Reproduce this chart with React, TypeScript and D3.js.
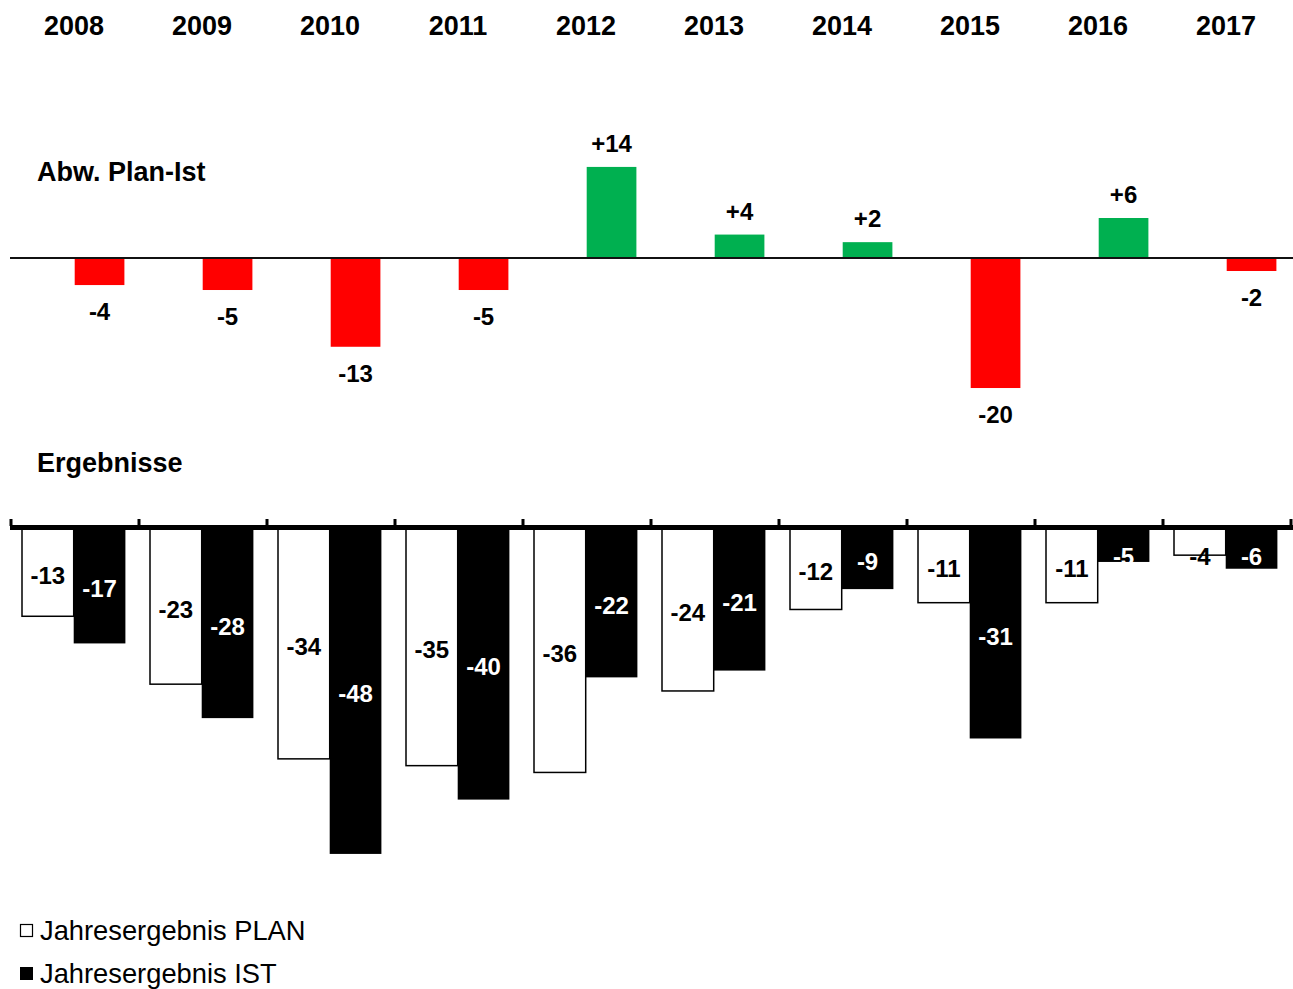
import React from "react";
import * as d3 from "d3";

const years = ["2008", "2009", "2010", "2011", "2012", "2013", "2014", "2015", "2016", "2017"];
const deviation = [-4.1, -4.85, -13.45, -4.85, 13.8, 3.55, 2.4, -19.7, 6.06, -1.97];
const planValues = [-13, -23, -34, -35, -36, -24, -12, -11, -11, -4];
const istValues = [-17, -28, -48, -40, -22, -21, -9, -31, -5, -6];
const legendLabels = ["Jahresergebnis PLAN", "Jahresergebnis IST"];
const sectionTitles = ["Abw. Plan-Ist", "Ergebnisse"];

const W = 1293;
const H = 989;
const FONT = "'Liberation Sans', Arial, Helvetica, sans-serif";

const fmtDev = (v: number) => {
  const r = Math.round(v);
  return (r > 0 ? "+" : r < 0 ? "-" : "") + Math.abs(r);
};
const fmtRes = (v: number) => {
  const r = Math.round(v);
  return (r < 0 ? "-" : "") + Math.abs(r);
};

export default function App() {
  const x = d3.scaleBand<string>().domain(years).range([11, 1291]).paddingInner(0).paddingOuter(0);
  const bw = x.bandwidth();
  const barOff = 11;
  const barW = 51.7;

  const yTop = d3.scaleLinear().domain([20, -20]).range([258 - 20 * 6.6, 258 + 20 * 6.6]);
  const yBot = d3.scaleLinear().domain([0, -50]).range([528, 528 + 50 * 6.79]);

  const ticks = d3.range(years.length + 1).map((i) => 11 + i * bw);

  return (
    <svg
      width={W}
      height={H}
      style={{ position: "absolute", left: 0, top: 0, display: "block", background: "#fff" }}
      fontFamily={FONT}
    >
      {/* year labels */}
      {years.map((yr) => (
        <text
          key={"y" + yr}
          x={(x(yr) as number) + bw / 2 - 1}
          y={35}
          textAnchor="middle"
          fontSize={27}
          fontWeight="bold"
          fill="#000"
        >
          {yr}
        </text>
      ))}

      {/* section titles */}
      <text x={37} y={181} fontSize={27} fontWeight="bold" fill="#000">
        {sectionTitles[0]}
      </text>
      <text x={37} y={472} fontSize={27} fontWeight="bold" fill="#000">
        {sectionTitles[1]}
      </text>

      {/* deviation bars */}
      {deviation.map((v, i) => {
        const x0 = (x(years[i]) as number) + barOff + barW + 1;
        const w = barW - 2;
        const y0 = yTop(Math.max(v, 0));
        const y1 = yTop(Math.min(v, 0));
        const pos = v > 0;
        return (
          <g key={"d" + i}>
            <rect x={x0} y={y0} width={w} height={y1 - y0} fill={pos ? "#00B050" : "#FF0000"} />
            <text
              x={x0 + w / 2}
              y={pos ? y0 - 15 : y1 + 35}
              textAnchor="middle"
              fontSize={24}
              fontWeight="bold"
              fill="#000"
            >
              {fmtDev(v)}
            </text>
          </g>
        );
      })}
      <line x1={10} x2={1293} y1={yTop(0)} y2={yTop(0)} stroke="#111" strokeWidth={2} />

      {/* result bars */}
      {years.map((yr, i) => {
        const bx = x(yr) as number;
        const px = bx + barOff;
        const ix = px + barW;
        const pY = yBot(planValues[i]);
        const iY = yBot(istValues[i]);
        const z = yBot(0);
        const pc = Math.max((z + pY) / 2 + 3, 556);
        const ic = Math.max((z + iY) / 2 + 3, 556);
        return (
          <g key={"r" + yr}>
            <rect x={px} y={z} width={barW} height={pY - z} fill="#fff" stroke="#000" strokeWidth={1.5} />
            <rect x={ix} y={z} width={barW} height={iY - z} fill="#000" />
            <text x={px + barW / 2} y={pc + 8.5} textAnchor="middle" fontSize={24} fontWeight="bold" fill="#000">
              {fmtRes(planValues[i])}
            </text>
            <text x={ix + barW / 2} y={ic + 8.5} textAnchor="middle" fontSize={24} fontWeight="bold" fill="#fff">
              {fmtRes(istValues[i])}
            </text>
          </g>
        );
      })}

      {/* bottom axis */}
      <rect x={10} y={525} width={1283} height={5} fill="#000" />
      {ticks.map((t, i) => (
        <rect key={"t" + i} x={t - 1.5} y={519} width={3} height={7} fill="#000" />
      ))}

      {/* legend */}
      <rect x={20.5} y={924.5} width={12} height={12} fill="#fff" stroke="#000" strokeWidth={1.2} />
      <text x={40} y={940} fontSize={27.3} fill="#000">
        {legendLabels[0]}
      </text>
      <rect x={20} y={967} width={13} height={13} fill="#000" />
      <text x={40} y={983} fontSize={27.3} fill="#000">
        {legendLabels[1]}
      </text>
    </svg>
  );
}
